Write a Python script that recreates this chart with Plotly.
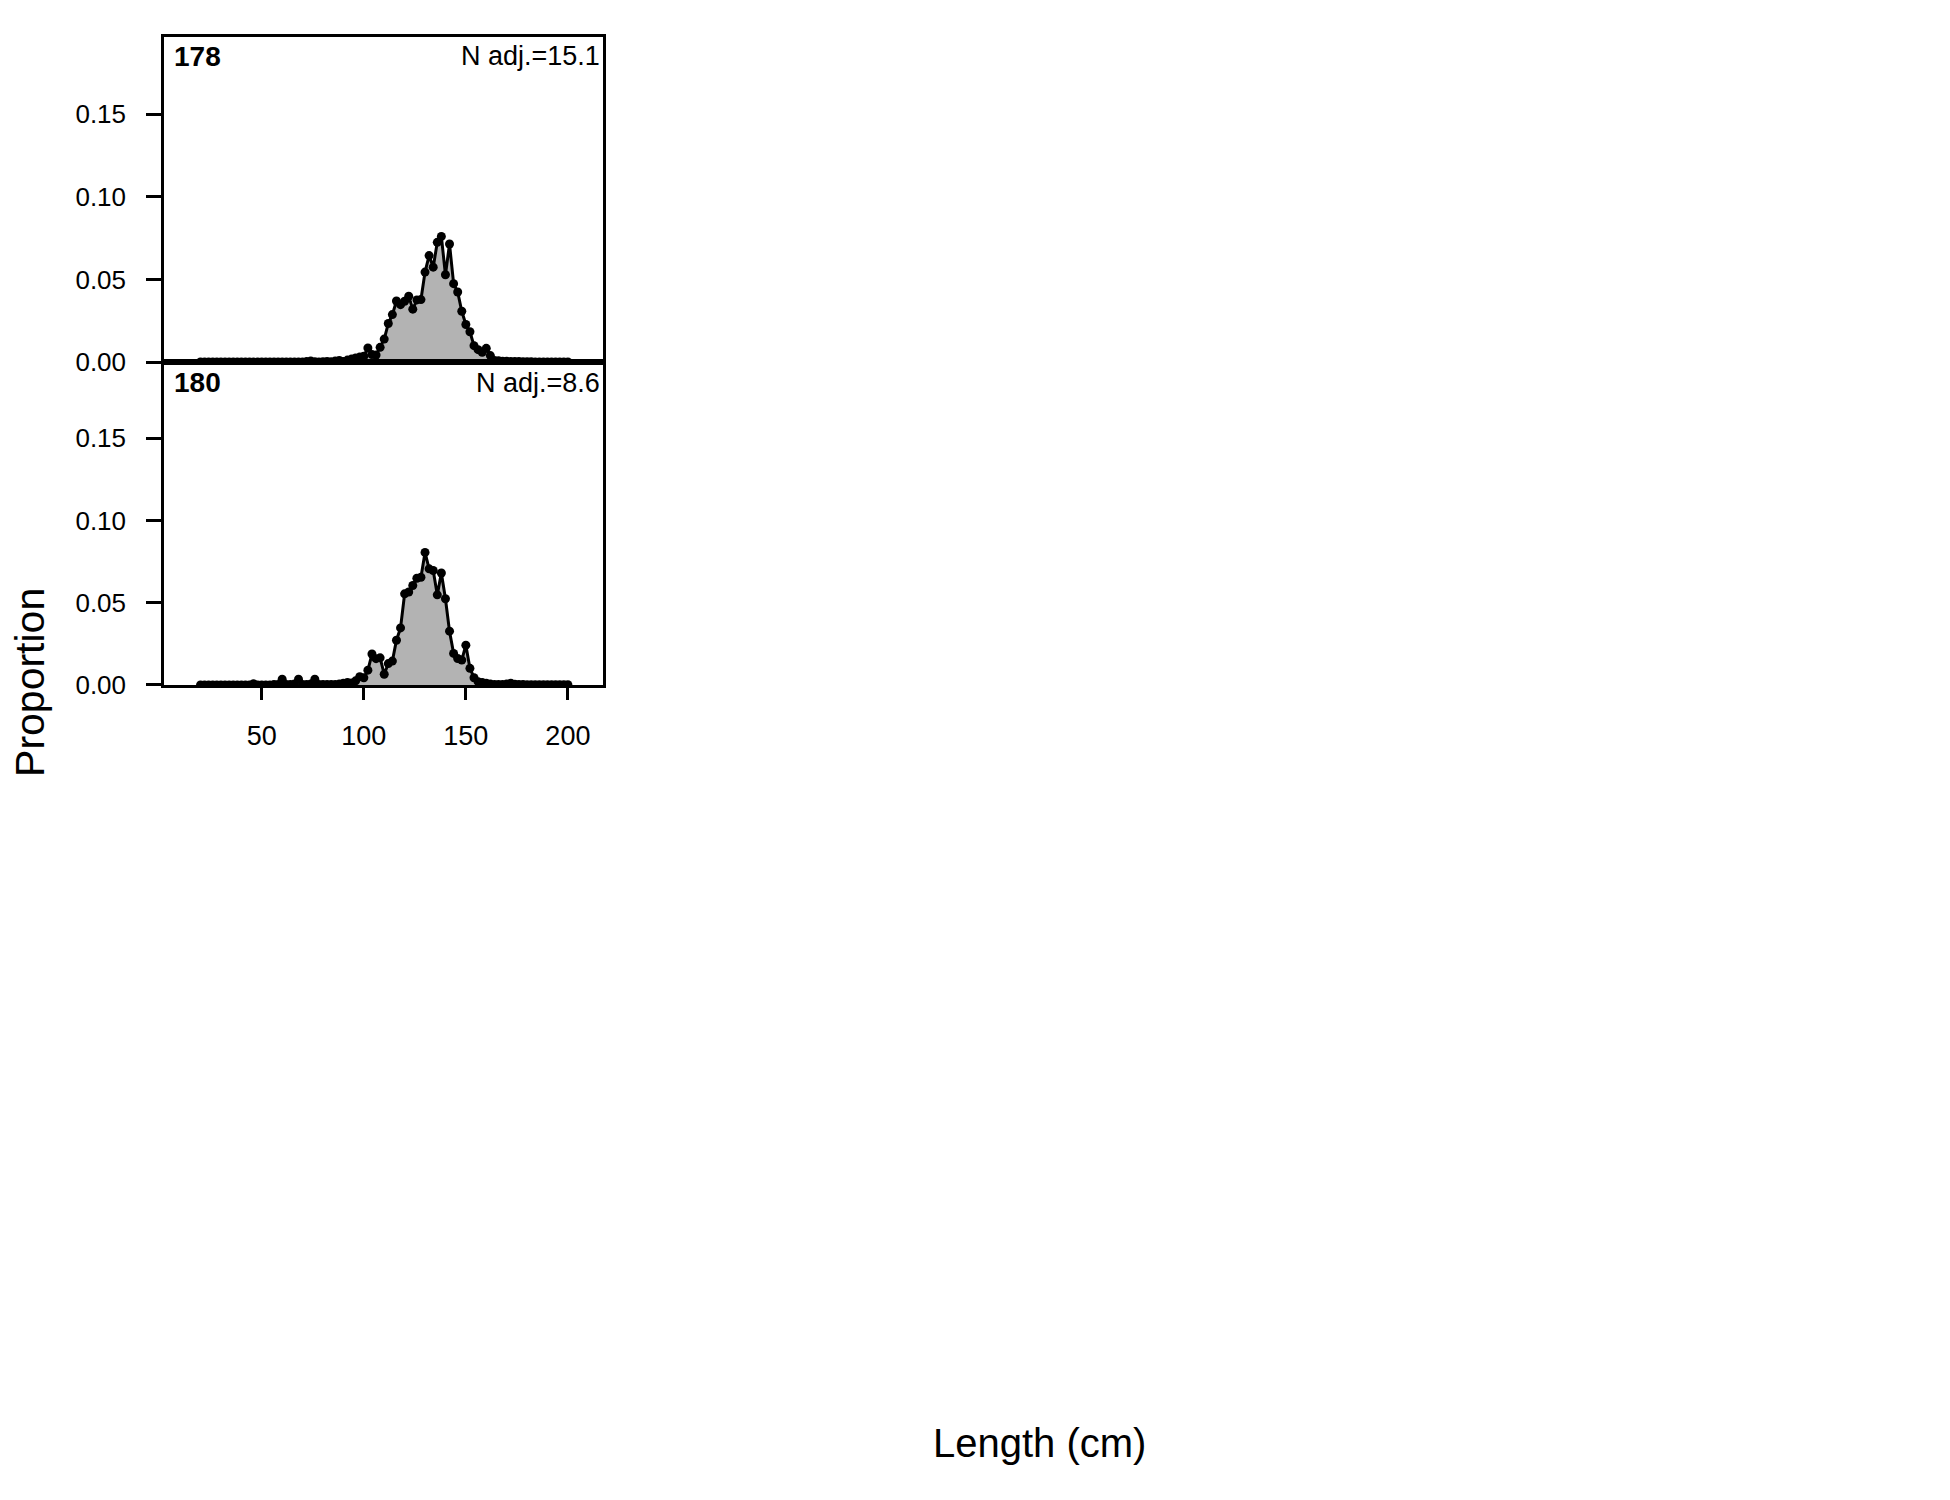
import plotly.graph_objects as go

# Length bins (cm)
lengths = list(range(20, 201, 2))

# Panel 178 proportions (20..200 by 2)
prop_178 = [
    0, 0, 0, 0, 0, 0, 0, 0, 0, 0,            # 20-38
    0, 0, 0, 0, 0, 0, 0, 0, 0, 0,            # 40-58
    0, 0, 0, 0, 0, 0,                        # 60-70
    0.0003, 0.0006, 0.0002, 0.0, 0.0002, 0.0004, 0.0002, 0.0006, 0.0010, 0.0004,  # 72-90
    0.0012, 0.0018, 0.0025, 0.0030, 0.0035,  # 92-100
    0.0085, 0.0045, 0.0043, 0.0089, 0.0139,  # 102-110
    0.0233, 0.0287, 0.0369, 0.0347, 0.0368,  # 112-120
    0.0398, 0.0320, 0.0376, 0.0378, 0.0544,  # 122-130
    0.0644, 0.0574, 0.0724, 0.0760, 0.0528,  # 132-140
    0.0714, 0.0474, 0.0424, 0.0307, 0.0227,  # 142-150
    0.0183, 0.0099, 0.0075, 0.0059, 0.0083,  # 152-160
    0.0039, 0.0010, 0.0008, 0.0005, 0.0005,  # 162-170
    0.0004, 0.0003, 0.0003, 0.0002, 0.0002,  # 172-180
    0.0002, 0.0001, 0.0001, 0.0001, 0.0001,  # 182-190
    0.0001, 0.0001, 0.0001, 0.0001, 0.0001,  # 192-200
]

# Panel 180 proportions (20..200 by 2)
prop_180 = [
    0, 0, 0, 0, 0, 0, 0, 0, 0, 0,            # 20-38
    0, 0, 0,                                  # 40-44
    0.0008, 0, 0, 0, 0, 0.0002, 0.0003,       # 46-58
    0.0035, 0.0003, 0.0002, 0.0005, 0.0035,   # 60-68
    0.0003, 0.0002, 0.0005, 0.0035, 0.0003,   # 70-78
    0.0002, 0.0002, 0.0002, 0.0003, 0.0005,   # 80-88
    0.0010, 0.0015, 0.0012, 0.0025, 0.0050,   # 90-98
    0.0044, 0.0090, 0.0188, 0.0160, 0.0165,   # 100-108
    0.0065, 0.0130, 0.0145, 0.0272, 0.0347,   # 110-118
    0.0554, 0.0565, 0.0605, 0.0649, 0.0655,   # 120-128
    0.0806, 0.0706, 0.0696, 0.0548, 0.0681,   # 130-138
    0.0524, 0.0327, 0.0192, 0.0161, 0.0151,   # 140-148
    0.0242, 0.0101, 0.0044, 0.0020, 0.0015,   # 150-158
    0.0010, 0.0005, 0.0003, 0.0003, 0.0002,   # 160-168
    0.0005, 0.0010, 0.0004, 0.0002, 0.0002,   # 170-178
    0.0001, 0.0001, 0.0001, 0.0001, 0.0001,   # 180-188
    0.0001, 0.0001, 0.0001, 0.0001, 0.0001,   # 190-198
    0.0001,                                   # 200
]

panel_labels = ["178", "180"]
n_adj_labels = ["N adj.=15.1", "N adj.=8.6"]
y_ticks = [0, 0.05, 0.10, 0.15]
y_ticktext = ["0.00", "0.05", "0.10", "0.15"]
x_ticks = [50, 100, 150, 200]

# The page body has an 8px margin; keep the figure comfortably inside the window
OFF = 8
W, H = 1920, 1470
FONT = "Liberation Sans, Arial, sans-serif"


def xp(px):
    return (px - OFF) / W


def yp(py):
    # small empirical vertical correction so the layout lands where the reference is
    py = py * 1.005 + 3.5
    return 1 - (py - OFF) / H


fig = go.Figure()

for i, vals in enumerate([prop_178, prop_180]):
    suffix = "" if i == 0 else "2"
    fig.add_trace(go.Scatter(
        x=lengths, y=vals, mode="lines+markers",
        fill="tozeroy", fillcolor="#b3b3b3",
        line=dict(color="black", width=3),
        marker=dict(color="black", size=9),
        xaxis="x" + suffix, yaxis="y" + suffix,
        showlegend=False, hoverinfo="x+y",
    ))

x0, x1 = xp(164), xp(603)
top_top, top_bot = yp(34), yp(360.4)
bot_top, bot_bot = yp(360.4), yp(685)

xr = [2.1, 217.2]
yr = [0, 0.1964]

common_axis = dict(showline=True, linecolor="black", linewidth=2.5, mirror=True,
                   showgrid=False, zeroline=False)

fig.update_layout(
    width=W, height=H,
    margin=dict(l=0, r=0, t=0, b=0),
    paper_bgcolor="white", plot_bgcolor="white",
    font=dict(family=FONT, color="black"),
    xaxis=dict(domain=[x0, x1], range=xr, anchor="y", showticklabels=False,
               ticks="", **common_axis),
    yaxis=dict(domain=[top_bot, top_top], range=yr, anchor="x",
               tickvals=y_ticks, ticktext=y_ticktext, ticks="outside",
               ticklen=15, tickwidth=2.5, tickcolor="black",
               tickfont=dict(size=26, family=FONT), ticklabelstandoff=15,
               **common_axis),
    xaxis2=dict(domain=[x0, x1], range=xr, anchor="y2",
                tickvals=x_ticks, ticks="outside", ticklen=12, tickwidth=2.5,
                tickcolor="black", tickfont=dict(size=27, family=FONT),
                ticklabelstandoff=13, **common_axis),
    yaxis2=dict(domain=[bot_bot, bot_top], range=yr, anchor="x2",
                tickvals=y_ticks, ticktext=y_ticktext, ticks="outside",
                ticklen=15, tickwidth=2.5, tickcolor="black",
                tickfont=dict(size=26, family=FONT), ticklabelstandoff=15,
                **common_axis),
)

annotations = []
label_y = [53, 381]
for i in range(2):
    annotations.append(dict(
        x=xp(172), y=yp(label_y[i]), xref="paper", yref="paper",
        text="<b>" + panel_labels[i] + "</b>", showarrow=False,
        xanchor="left", yanchor="middle", font=dict(size=28, family=FONT)))
    annotations.append(dict(
        x=xp(602), y=yp(label_y[i]), xref="paper", yref="paper",
        text=n_adj_labels[i], showarrow=False,
        xanchor="right", yanchor="middle", font=dict(size=27, family=FONT)))

annotations.append(dict(
    x=xp(30), y=yp(683), xref="paper", yref="paper", text="Proportion",
    showarrow=False, textangle=-90, xanchor="center", yanchor="middle",
    font=dict(size=41, family=FONT)))
annotations.append(dict(
    x=xp(1039), y=yp(1447), xref="paper", yref="paper", text="Length (cm)",
    showarrow=False, xanchor="center", yanchor="middle",
    font=dict(size=40, family=FONT)))

fig.update_layout(annotations=annotations)

fig.write_html("out.html")
